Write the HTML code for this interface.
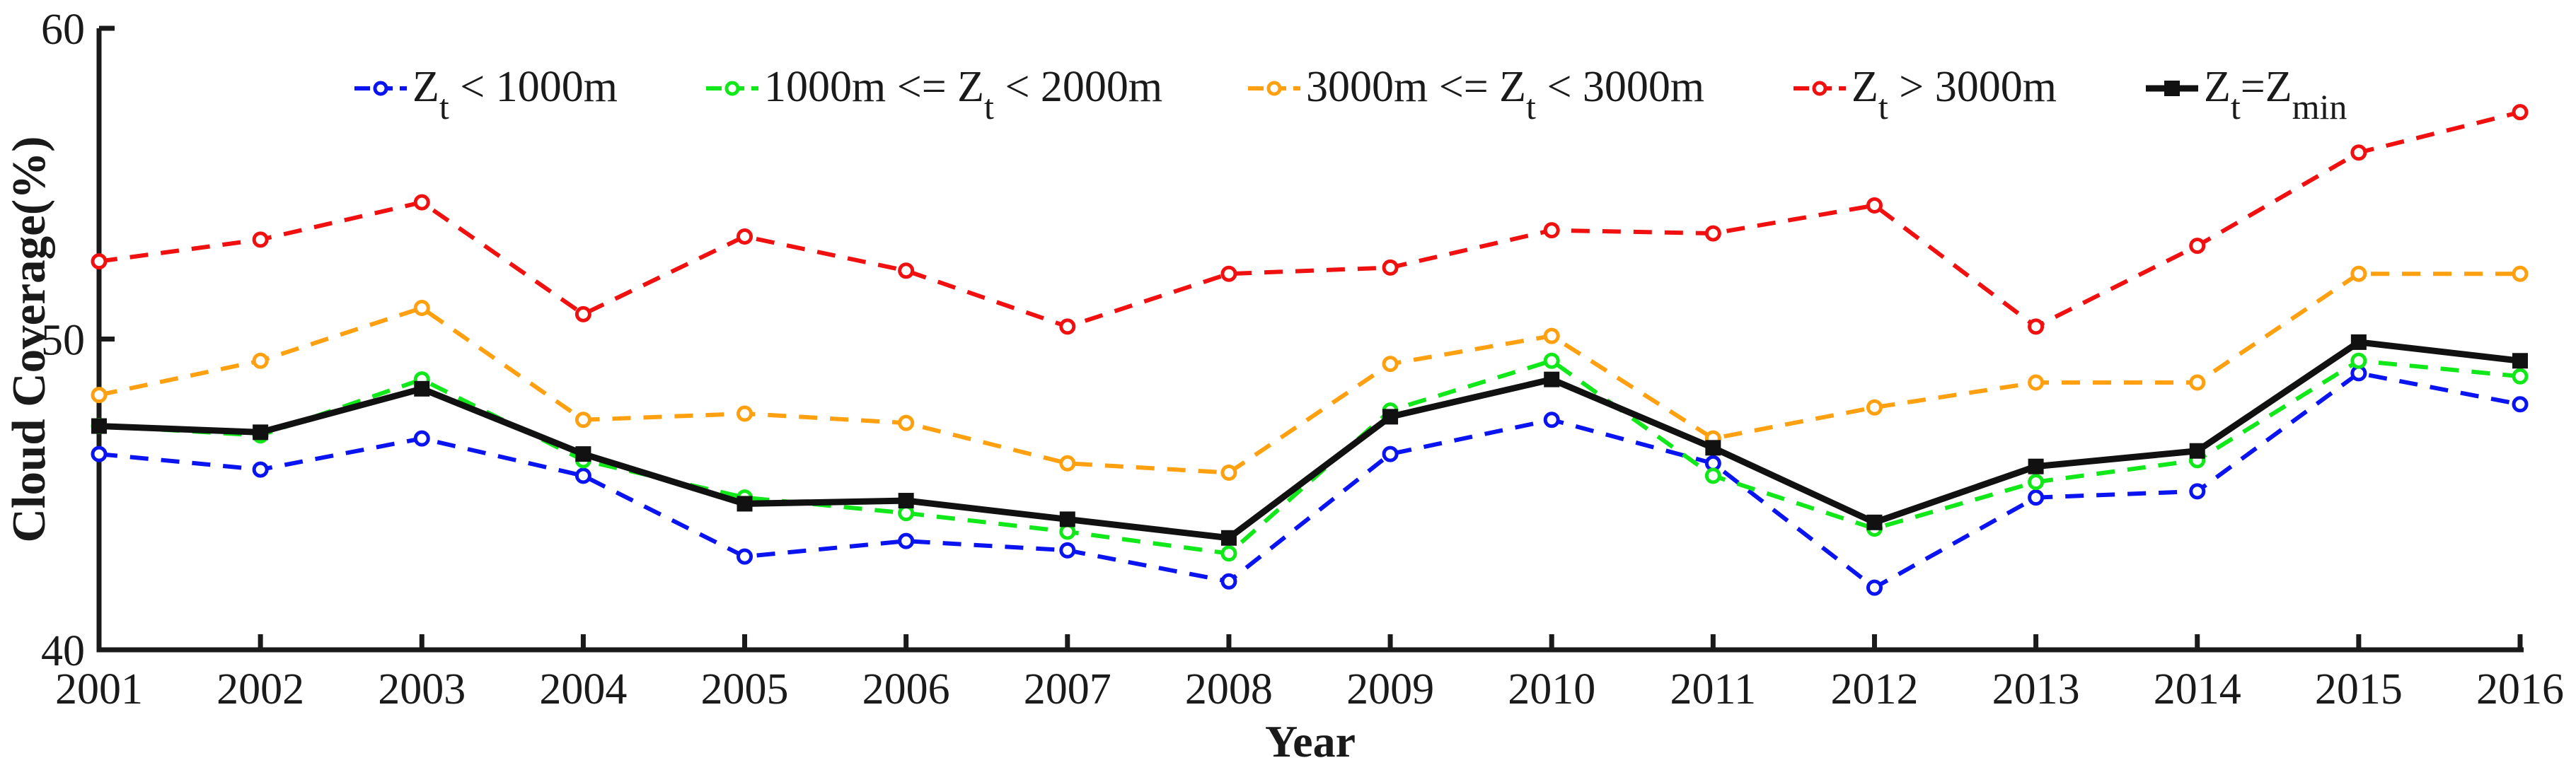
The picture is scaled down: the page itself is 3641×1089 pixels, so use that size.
<!DOCTYPE html>
<html><head><meta charset="utf-8"><style>
html,body{margin:0;padding:0;background:#fff;}
svg{display:block;font-family:"Liberation Serif",serif;}
</style></head><body>
<svg id="chart" width="3641" height="1089" viewBox="0 0 3641 1089" xmlns="http://www.w3.org/2000/svg">
<g id="plot"></g>
</svg>
<script>
const years = [2001,2002,2003,2004,2005,2006,2007,2008,2009,2010,2011,2012,2013,2014,2015,2016];
const yTicks = [40,50,60];
const blueVals   = [46.3,45.8,46.8,45.6,43.0,43.5,43.2,42.2,46.3,47.4,46.0,42.0,44.9,45.1,48.9,47.9];
const greenVals  = [47.2,46.9,48.7,46.1,44.9,44.4,43.8,43.1,47.7,49.3,45.6,43.9,45.4,46.1,49.3,48.8];
const orangeVals = [48.2,49.3,51.0,47.4,47.6,47.3,46.0,45.7,49.2,50.1,46.8,47.8,48.6,48.6,52.1,52.1];
const redVals    = [52.5,53.2,54.4,50.8,53.3,52.2,50.4,52.1,52.3,53.5,53.4,54.3,50.4,53.0,56.0,57.3];
const blackVals  = [47.2,47.0,48.4,46.3,44.7,44.8,44.2,43.6,47.5,48.7,46.5,44.1,45.9,46.4,49.9,49.3];

const NS="http://www.w3.org/2000/svg";
const X0=140,X1=3562,Y40=919,Y60=40;
const xs=i=>X0+(X1-X0)*i/(years.length-1);
const ys=v=>Y40-(v-40)*(Y40-Y60)/20;
const g=document.getElementById('plot');
function mk(tag,attrs){const e=document.createElementNS(NS,tag);for(const k in attrs)e.setAttribute(k,attrs[k]);g.appendChild(e);return e;}

let ax=mk('path',{d:`M${X0},${Y60} V${Y40} H${X1+5}`,stroke:'#1a1a1a','stroke-width':7,fill:'none'});


yTicks.forEach(v=>{
  const t=mk('line',{x1:X0,x2:X0+22,y1:ys(v),y2:ys(v),stroke:'#1a1a1a','stroke-width':7});
  
  
  const l=mk('text',{x:X0-20,y:ys(v)+22,'text-anchor':'end','font-size':62,fill:'#1a1a1a'});
  l.textContent=v;
  
  
});
years.forEach((yr,i)=>{
  if(i>0){const t=mk('line',{x1:xs(i),x2:xs(i),y1:Y40,y2:Y40-22,stroke:'#1a1a1a','stroke-width':7});
  
  }
  const l=mk('text',{x:xs(i),y:995,'text-anchor':'middle','font-size':62,fill:'#1a1a1a'});
  l.textContent=yr;
  
  
});
let xt=mk('text',{x:1852,y:1070,'text-anchor':'middle','font-size':64,'font-weight':'bold',fill:'#1a1a1a'});
xt.textContent='Year';


let yt=mk('text',{x:0,y:0,'text-anchor':'middle','font-size':67,'font-weight':'bold',fill:'#1a1a1a',transform:'translate(63,480) rotate(-90)'});
yt.textContent='Cloud Coverage(%)';



const series=[
 {vals:blueVals,color:'#0a14f0',name:'series-below-1000m',dash:'26 18',w:6,sq:false},
 {vals:greenVals,color:'#11e81a',name:'series-1000-2000m',dash:'26 18',w:6,sq:false},
 {vals:orangeVals,color:'#ffa010',name:'series-2000-3000m',dash:'26 18',w:6,sq:false},
 {vals:redVals,color:'#f01010',name:'series-above-3000m',dash:'26 18',w:6,sq:false},
 {vals:blackVals,color:'#111',name:'series-zmin',dash:'',w:9,sq:true}
];
series.forEach(s=>{
  const d=s.vals.map((v,i)=>(i?'L':'M')+xs(i)+','+ys(v)).join(' ');
  const p=mk('path',{d:d,stroke:s.color,'stroke-width':s.w,fill:'none','stroke-dasharray':s.dash});
  
  
  s.vals.forEach((v,i)=>{
    let m;
    if(s.sq) m=mk('rect',{x:xs(i)-11,y:ys(v)-11,width:22,height:22,fill:'#111'});
    else m=mk('circle',{cx:xs(i),cy:ys(v),r:9,fill:'#fff',stroke:s.color,'stroke-width':5});
    
    
  });
});

const leg=[
 {x:501,color:'#0a14f0',sq:false,dash:'22 10',w:6,html:['Z','t',' < 1000m']},
 {x:998,color:'#11e81a',sq:false,dash:'22 10',w:6,html:['1000m <= Z','t',' < 2000m']},
 {x:1764,color:'#ffa010',sq:false,dash:'22 10',w:6,html:['3000m <= Z','t',' < 3000m']},
 {x:2535,color:'#f01010',sq:false,dash:'22 10',w:6,html:['Z','t',' > 3000m']},
 {x:3033,color:'#111',sq:true,dash:'',w:9,html:['Z','t','=Z','min']}
];
leg.forEach(e=>{
  const l=mk('line',{x1:e.x,x2:e.x+74,y1:125,y2:125,stroke:e.color,'stroke-width':e.w,'stroke-dasharray':e.dash});
  
  
  let m;
  if(e.sq) m=mk('rect',{x:e.x+26,y:114,width:22,height:22,fill:'#111'});
  else m=mk('circle',{cx:e.x+37,cy:125,r:8,fill:'#fff',stroke:e.color,'stroke-width':5});
  
  
  const t=mk('text',{x:e.x+82,y:143,'font-size':62,fill:'#1a1a1a'});
  
  
  e.html.forEach((part,k)=>{
    const ts=document.createElementNS(NS,'tspan');
    ts.textContent=part;
    if(k%2===1){ts.setAttribute('dy','25');ts.setAttribute('font-size','50');}
    else if(k>0){ts.setAttribute('dy','-25');}
    t.appendChild(ts);
  });
});
</script>
</body></html>
